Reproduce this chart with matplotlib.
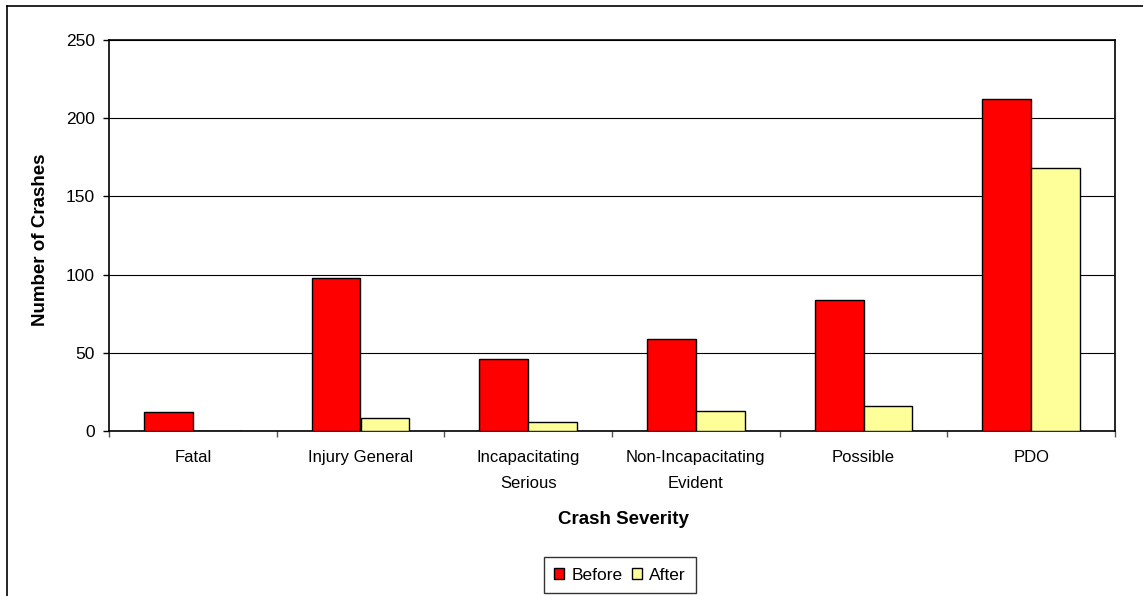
import numpy as np
import matplotlib
matplotlib.use("Agg")
import matplotlib.pyplot as plt
from matplotlib.lines import Line2D

plt.rcParams['font.family'] = ['Liberation Sans', 'DejaVu Sans']

# data
categories = ["Fatal", "Injury General", "Incapacitating\nSerious",
              "Non-Incapacitating\nEvident", "Possible", "PDO"]
before = [12, 98, 46, 59, 84, 212]
after = [0, 8, 6, 13, 16, 168]

W, H = 1143, 596
fig = plt.figure(figsize=(W / 100, H / 100), dpi=100)
ax = fig.add_axes([109 / W, 1 - 431 / H, (1115 - 109) / W, (431 - 40) / H])

x = np.arange(len(categories))
bw = 0.292
ax.bar(x - bw / 2, before, bw, color="#ff0000", edgecolor="black", linewidth=1, label="Before", zorder=3)
ax.bar(x + bw / 2, after, bw, color="#ffff99", edgecolor="black", linewidth=1, label="After", zorder=3)

ax.set_xlim(-0.5, len(categories) - 0.5)
ax.set_ylim(0, 250)
ax.set_yticks(np.arange(0, 251, 50))
ax.yaxis.grid(True, color="black", linewidth=0.8, zorder=0)
ax.set_axisbelow(True)

# category ticks sit between groups, labels centred on the groups
ax.set_xticks(np.arange(-0.5, len(categories), 1))
ax.set_xticklabels([])
ax.set_xticks(x, minor=True)
ax.set_xticklabels(categories, minor=True, fontsize=12, linespacing=1.85)
ax.tick_params(axis="x", which="minor", length=0, pad=14)
ax.tick_params(axis="x", which="major", direction="out", length=4, width=1, color="#555555")
ax.tick_params(axis="y", direction="out", length=4, width=1, labelsize=12.5, pad=6)

for s in ax.spines.values():
    s.set_color("black")
    s.set_linewidth(1.2)

fig.text(623 / W, 1 - 520 / H, "Crash Severity", ha="center", va="center",
         fontsize=13.5, fontweight="bold")
fig.text(41 / W, 1 - 240 / H, "Number of Crashes", ha="center", va="center",
         rotation=90, fontsize=13.5, fontweight="bold")

leg = fig.legend(loc="center", bbox_to_anchor=(620 / W, 1 - 575 / H), ncol=2,
                 frameon=True, fancybox=False, fontsize=12.5, handlelength=0.6,
                 handleheight=0.6, handletextpad=0.4, columnspacing=0.55,
                 borderpad=0.6, borderaxespad=0)
leg.get_frame().set_edgecolor("black")
leg.get_frame().set_linewidth(1)

# outer chart border (top and left visible)
fig.add_artist(Line2D([7 / W, 7 / W], [0, 1 - 6 / H], transform=fig.transFigure, color="black", linewidth=1.2))
fig.add_artist(Line2D([7 / W, 1], [1 - 6 / H, 1 - 6 / H], transform=fig.transFigure, color="black", linewidth=1.2))

fig.savefig("out.png", dpi=100)
